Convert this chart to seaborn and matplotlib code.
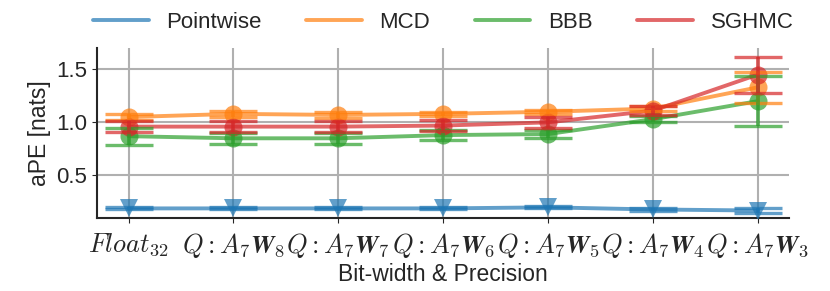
import numpy as np
import pandas as pd
import matplotlib
matplotlib.use('Agg')
import matplotlib.pyplot as plt
import seaborn as sns
from matplotlib.lines import Line2D

# tick labels (mathtext)
precisions = [r'$Float_{32}$', r'$Q:A_7\boldsymbol{W}_\mathbf{8}$', r'$Q:A_7\boldsymbol{W}_\mathbf{7}$',
              r'$Q:A_7\boldsymbol{W}_\mathbf{6}$', r'$Q:A_7\boldsymbol{W}_\mathbf{5}$',
              r'$Q:A_7\boldsymbol{W}_\mathbf{4}$', r'$Q:A_7\boldsymbol{W}_\mathbf{3}$']
methods = ['Pointwise', 'MCD', 'BBB', 'SGHMC']

pointwise = [0.19, 0.19, 0.19, 0.19, 0.20, 0.18, 0.17]
pointwise_err = [0.01, 0.01, 0.01, 0.01, 0.01, 0.01, 0.02]
mcd = [1.05, 1.08, 1.07, 1.08, 1.10, 1.13, 1.33]
mcd_err = [0.03, 0.03, 0.03, 0.02, 0.02, 0.02, 0.145]
bbb = [0.87, 0.85, 0.85, 0.88, 0.89, 1.03, 1.20]
bbb_err = [0.08, 0.05, 0.05, 0.05, 0.04, 0.03, 0.235]
sghmc = [0.96, 0.96, 0.96, 0.97, 1.00, 1.11, 1.45]
sghmc_err = [0.055, 0.05, 0.05, 0.05, 0.05, 0.04, 0.17]

values = {'Pointwise': (pointwise, pointwise_err), 'MCD': (mcd, mcd_err),
          'BBB': (bbb, bbb_err), 'SGHMC': (sghmc, sghmc_err)}
markers = {'Pointwise': 'v', 'MCD': 'o', 'BBB': 'o', 'SGHMC': 'o'}

sns.set_style('ticks')
plt.rcParams['font.family'] = ['Liberation Sans', 'DejaVu Sans']
plt.rcParams['mathtext.fontset'] = 'cm'

palette = sns.color_palette('tab10', 4)
colors = dict(zip(methods, palette))

rows = []
for m in methods:
    for i, (v, e) in enumerate(zip(*values[m])):
        rows.append({'x': i, 'aPE': v, 'err': e, 'method': m})
df = pd.DataFrame(rows)

fig = plt.figure(figsize=(8.3, 2.91), dpi=100)
ax = fig.add_axes([0.117, 0.251, 0.834, 0.584])

sns.lineplot(data=df, x='x', y='aPE', hue='method', style='method', markers=markers,
             dashes=False, palette=colors, linewidth=2.8, markersize=13, alpha=0.7,
             markeredgewidth=0, legend=False, ax=ax, zorder=3)
for m in methods:
    sub = df[df.method == m]
    ax.errorbar(sub['x'], sub['aPE'], yerr=sub['err'], fmt='none', ecolor=colors[m],
                elinewidth=2.8, capsize=17, capthick=2.4, alpha=0.7, zorder=3)

ax.set_xlim(-0.3, 6.3)
ax.set_ylim(0.1, 1.7)
ax.set_yticks([0.5, 1.0, 1.5])
ax.set_xticks(range(len(precisions)))
ax.set_xticklabels(precisions, fontsize=19)
ax.tick_params(axis='y', labelsize=16)
ax.tick_params(axis='x', pad=6)
ax.grid(True, color='#b0b0b0', linewidth=1.5)
ax.set_axisbelow(True)
ax.set_xlabel('Bit-width & Precision', fontsize=16.5, labelpad=2)
ax.set_ylabel('aPE [nats]', fontsize=16.5)
sns.despine(ax=ax)
for s in ['left', 'bottom']:
    ax.spines[s].set_linewidth(1.5)

handles = [Line2D([0], [0], color=colors[m], lw=2.8, alpha=0.7) for m in methods]
ax.legend(handles, methods, loc='lower center', bbox_to_anchor=(0.5, 0.97), ncol=4,
          frameon=False, fontsize=16, handlelength=2.5, handletextpad=0.8,
          columnspacing=2.0)

fig.savefig('out.png', dpi=100)
